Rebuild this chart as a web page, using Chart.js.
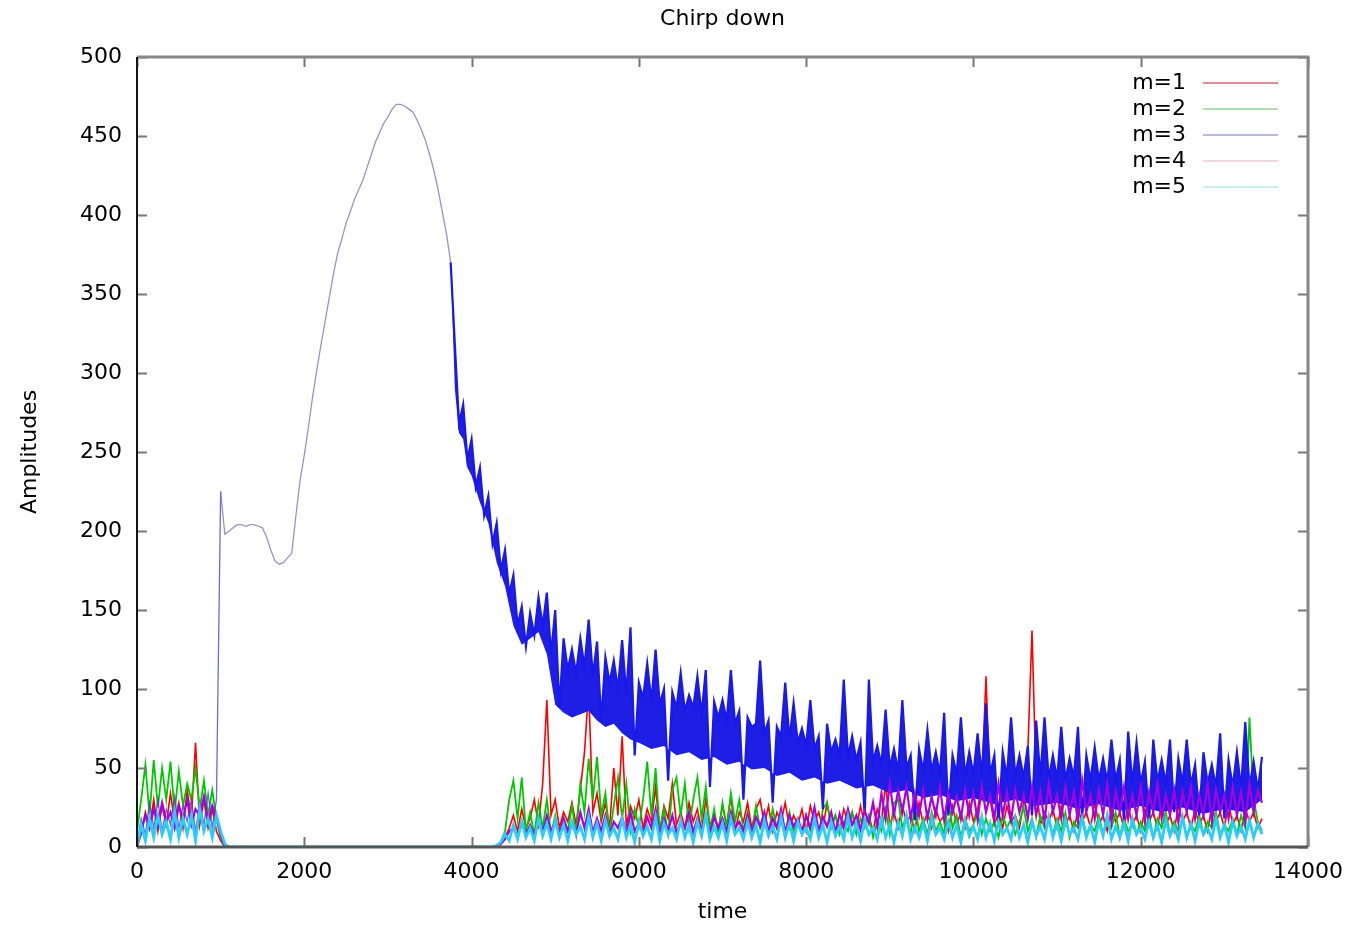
<!DOCTYPE html>
<html>
<head>
<meta charset="utf-8">
<title>Chirp down</title>
<script src="https://cdn.jsdelivr.net/npm/chart.js@4.4.1/dist/chart.umd.min.js"></script>
<style>
    html, body { margin: 0; padding: 0; background: #ffffff; }
    #chirpChart { display: block; }
</style>
</head>
<body>
<canvas id="chirpChart" width="1355" height="925"></canvas>
<script>
// sample times, one row = 500 time units
const time = [
    0, 50, 100, 150, 200, 250, 300, 350, 400, 450,
    500, 550, 600, 650, 700, 750, 800, 850, 900, 950,
    1000, 1050, 1100, 1150, 1200, 1250, 1300, 1350, 1400, 1450,
    1500, 1550, 1600, 1650, 1700, 1750, 1800, 1850, 1900, 1950,
    2000, 2050, 2100, 2150, 2200, 2250, 2300, 2350, 2400, 2450,
    2500, 2550, 2600, 2650, 2700, 2750, 2800, 2850, 2900, 2950,
    3000, 3050, 3100, 3150, 3200, 3250, 3300, 3350, 3400, 3450,
    3500, 3550, 3600, 3650, 3700, 3750, 3800, 3850, 3900, 3950,
    4000, 4050, 4100, 4150, 4200, 4250, 4300, 4350, 4400, 4450,
    4500, 4550, 4600, 4650, 4700, 4750, 4800, 4850, 4900, 4950,
    5000, 5050, 5100, 5150, 5200, 5250, 5300, 5350, 5400, 5450,
    5500, 5550, 5600, 5650, 5700, 5750, 5800, 5850, 5900, 5950,
    6000, 6050, 6100, 6150, 6200, 6250, 6300, 6350, 6400, 6450,
    6500, 6550, 6600, 6650, 6700, 6750, 6800, 6850, 6900, 6950,
    7000, 7050, 7100, 7150, 7200, 7250, 7300, 7350, 7400, 7450,
    7500, 7550, 7600, 7650, 7700, 7750, 7800, 7850, 7900, 7950,
    8000, 8050, 8100, 8150, 8200, 8250, 8300, 8350, 8400, 8450,
    8500, 8550, 8600, 8650, 8700, 8750, 8800, 8850, 8900, 8950,
    9000, 9050, 9100, 9150, 9200, 9250, 9300, 9350, 9400, 9450,
    9500, 9550, 9600, 9650, 9700, 9750, 9800, 9850, 9900, 9950,
    10000, 10050, 10100, 10150, 10200, 10250, 10300, 10350, 10400, 10450,
    10500, 10550, 10600, 10650, 10700, 10750, 10800, 10850, 10900, 10950,
    11000, 11050, 11100, 11150, 11200, 11250, 11300, 11350, 11400, 11450,
    11500, 11550, 11600, 11650, 11700, 11750, 11800, 11850, 11900, 11950,
    12000, 12050, 12100, 12150, 12200, 12250, 12300, 12350, 12400, 12450,
    12500, 12550, 12600, 12650, 12700, 12750, 12800, 12850, 12900, 12950,
    13000, 13050, 13100, 13150, 13200, 13250, 13300, 13350, 13400, 13450
];

const ampM1 = [
    0, 8, 22, 12, 30, 10, 26, 14, 34, 16,
    28, 12, 36, 18, 66, 14, 30, 12, 24, 10,
    4, 0, 0, 0, 0, 0, 0, 0, 0, 0,
    0, 0, 0, 0, 0, 0, 0, 0, 0, 0,
    0, 0, 0, 0, 0, 0, 0, 0, 0, 0,
    0, 0, 0, 0, 0, 0, 0, 0, 0, 0,
    0, 0, 0, 0, 0, 0, 0, 0, 0, 0,
    0, 0, 0, 0, 0, 0, 0, 0, 0, 0,
    0, 0, 0, 0, 0, 0, 0, 2, 6, 12,
    20, 10, 24, 12, 18, 30, 14, 40, 93, 20,
    30, 12, 22, 16, 28, 14, 36, 60, 100, 22,
    34, 16, 28, 12, 50, 20, 70, 14, 26, 18,
    30, 12, 24, 16, 38, 10, 26, 18, 40, 14,
    22, 12, 28, 16, 24, 10, 30, 14, 20, 12,
    26, 14, 32, 10, 22, 16, 28, 12, 24, 30,
    14, 26, 10, 22, 16, 28, 12, 20, 14, 24,
    10, 26, 16, 22, 12, 28, 14, 20, 10, 24,
    16, 22, 12, 26, 14, 20, 10, 24, 16, 40,
    14, 22, 12, 26, 16, 20, 10, 28, 14, 22,
    12, 24, 16, 20, 10, 26, 14, 22, 12, 28,
    16, 24, 40, 108, 30, 14, 22, 12, 26, 16,
    20, 12, 28, 60, 137, 40, 14, 22, 16, 24,
    12, 26, 14, 20, 10, 24, 16, 22, 12, 28,
    14, 20, 10, 24, 16, 22, 12, 26, 14, 20,
    10, 24, 16, 22, 12, 28, 14, 20, 10, 26,
    16, 22, 12, 24, 14, 20, 10, 26, 16, 22,
    12, 28, 14, 20, 10, 24, 16, 22, 12, 18
];

const ampM2 = [
    10, 30, 52, 20, 55, 25, 50, 30, 54, 22,
    48, 26, 40, 30, 50, 24, 42, 20, 36, 18,
    6, 0, 0, 0, 0, 0, 0, 0, 0, 0,
    0, 0, 0, 0, 0, 0, 0, 0, 0, 0,
    0, 0, 0, 0, 0, 0, 0, 0, 0, 0,
    0, 0, 0, 0, 0, 0, 0, 0, 0, 0,
    0, 0, 0, 0, 0, 0, 0, 0, 0, 0,
    0, 0, 0, 0, 0, 0, 0, 0, 0, 0,
    0, 0, 0, 0, 0, 0, 0, 3, 10, 30,
    42, 18, 44, 10, 22, 8, 28, 12, 30, 8,
    20, 6, 18, 10, 26, 8, 40, 22, 56, 30,
    57, 20, 34, 8, 26, 44, 18, 40, 10, 24,
    12, 30, 54, 20, 50, 10, 24, 8, 36, 44,
    20, 40, 12, 30, 44, 18, 38, 10, 24, 8,
    28, 12, 34, 16, 30, 10, 22, 8, 26, 12,
    20, 8, 24, 12, 18, 6, 22, 10, 16, 8,
    20, 10, 18, 6, 24, 28, 12, 20, 8, 16,
    10, 22, 8, 18, 12, 20, 6, 16, 10, 24,
    8, 28, 30, 12, 20, 8, 26, 10, 18, 8,
    22, 10, 16, 8, 30, 12, 20, 6, 18, 10,
    14, 22, 8, 18, 10, 16, 6, 20, 12, 18,
    8, 16, 25, 10, 18, 6, 20, 12, 16, 8,
    18, 10, 22, 6, 16, 12, 20, 8, 14, 10,
    20, 8, 16, 12, 22, 6, 18, 10, 14, 8,
    16, 10, 20, 6, 18, 12, 22, 8, 16, 10,
    18, 6, 14, 10, 20, 8, 16, 12, 22, 8,
    14, 10, 18, 8, 20, 12, 82, 30, 16, 10
];

const ampM3 = [
    2, 18, 8, 28, 12, 30, 10, 24, 14, 32,
    12, 26, 16, 30, 10, 28, 14, 34, 12, 30,
    225, 198, 200, 202, 204, 204, 203, 204, 204, 203,
    202, 196, 188, 181, 179, 180, 183, 186, 210, 232,
    248, 266, 285, 302, 318, 333, 348, 363, 376, 385,
    395, 402, 410, 416, 422, 430, 438, 446, 452, 458,
    462, 467, 470, 470, 469, 467, 465, 460, 454, 447,
    438, 428, 416, 402, 388, 370, 318, 268, 280, 245,
    258, 228, 240, 210, 222, 192, 205, 175, 188, 160,
    172, 140, 152, 127, 148, 134, 158, 140, 161, 122,
    150, 88, 132, 112, 125, 110, 132, 114, 144, 108,
    130, 80, 120, 104, 118, 100, 131, 96, 139, 58,
    104, 94, 116, 92, 125, 90, 100, 42, 98, 88,
    110, 86, 96, 88, 108, 84, 112, 38, 92, 82,
    93, 80, 112, 78, 86, 30, 82, 76, 78, 118,
    72, 80, 28, 76, 70, 104, 68, 91, 66, 75,
    64, 93, 62, 70, 24, 78, 60, 68, 58, 106,
    57, 70, 55, 66, 20, 106, 54, 64, 52, 87,
    50, 62, 48, 93, 50, 58, 17, 62, 48, 74,
    48, 60, 46, 85, 20, 58, 46, 82, 45, 60,
    46, 72, 45, 91, 46, 58, 15, 60, 44, 82,
    45, 58, 44, 64, 20, 80, 44, 82, 43, 58,
    43, 76, 42, 56, 44, 76, 18, 58, 42, 63,
    42, 56, 41, 68, 42, 55, 16, 73, 40, 66,
    40, 54, 16, 68, 41, 55, 40, 68, 22, 56,
    40, 68, 39, 52, 20, 60, 40, 52, 38, 72,
    18, 55, 38, 60, 37, 79, 38, 54, 36, 57
];

// ragged lower edge of the solid m=3 band during the decay
const m3FloorTime = [
    3750, 3800, 3850, 3900, 3950, 4000, 4100, 4200, 4300, 4400,
    4500, 4600, 4700, 4800, 4900, 4950, 5000, 5100, 5200, 5300,
    5400, 5500, 5600, 5700, 5800, 5900, 6000, 6150, 6300, 6450,
    6600, 6750, 6900, 7050, 7200, 7350, 7500, 7650, 7800, 7950,
    8100, 8250, 8400, 8600, 8800, 9000, 9200, 9400, 9600, 9800,
    10000, 10250, 10500, 10750, 11000, 11250, 11500, 11750, 12000, 12250,
    12500, 12750, 13000, 13250, 13450
];
const m3Floor = [
    370, 290, 262, 258, 240, 235, 218, 205, 180, 165,
    140, 128, 132, 136, 122, 106, 90, 85, 82, 84,
    86, 80, 76, 78, 72, 68, 66, 62, 64, 58,
    60, 55, 57, 52, 54, 49, 50, 45, 47, 42,
    44, 40, 42, 37, 39, 34, 36, 31, 33, 29,
    31, 27, 30, 26, 28, 24, 27, 23, 26, 22,
    25, 21, 24, 22, 30
];

const ampM4 = [
    0, 10, 20, 12, 24, 14, 28, 16, 22, 12,
    26, 18, 30, 14, 24, 20, 32, 16, 26, 18,
    8, 0, 0, 0, 0, 0, 0, 0, 0, 0,
    0, 0, 0, 0, 0, 0, 0, 0, 0, 0,
    0, 0, 0, 0, 0, 0, 0, 0, 0, 0,
    0, 0, 0, 0, 0, 0, 0, 0, 0, 0,
    0, 0, 0, 0, 0, 0, 0, 0, 0, 0,
    0, 0, 0, 0, 0, 0, 0, 0, 0, 0,
    0, 0, 0, 0, 0, 0, 0, 2, 5, 10,
    12, 6, 16, 8, 14, 7, 18, 9, 20, 10,
    16, 8, 18, 10, 15, 8, 22, 12, 24, 9,
    18, 10, 20, 8, 16, 12, 19, 9, 22, 10,
    15, 9, 19, 12, 24, 8, 18, 10, 20, 9,
    16, 12, 22, 9, 18, 10, 20, 8, 19, 12,
    18, 9, 22, 12, 16, 10, 20, 9, 19, 13,
    22, 10, 18, 12, 24, 9, 20, 13, 18, 10,
    20, 12, 25, 10, 19, 13, 22, 9, 21, 12,
    24, 14, 20, 11, 23, 15, 28, 13, 34, 18,
    40, 20, 36, 22, 38, 18, 34, 20, 36, 18,
    32, 20, 38, 17, 34, 22, 32, 18, 36, 20,
    34, 17, 38, 22, 33, 18, 40, 20, 35, 17,
    36, 22, 33, 18, 38, 20, 35, 16, 40, 22,
    33, 18, 38, 20, 35, 16, 42, 22, 33, 18,
    36, 20, 40, 16, 35, 22, 38, 18, 33, 20,
    38, 16, 35, 22, 40, 18, 33, 20, 36, 16,
    35, 22, 38, 18, 33, 20, 40, 16, 36, 22,
    33, 18, 38, 20, 35, 16, 40, 22, 36, 28
];

const ampM5 = [
    0, 14, 4, 18, 6, 20, 8, 16, 5, 22,
    6, 18, 8, 20, 4, 24, 10, 18, 6, 20,
    10, 2, 0, 0, 0, 0, 0, 0, 0, 0,
    0, 0, 0, 0, 0, 0, 0, 0, 0, 0,
    0, 0, 0, 0, 0, 0, 0, 0, 0, 0,
    0, 0, 0, 0, 0, 0, 0, 0, 0, 0,
    0, 0, 0, 0, 0, 0, 0, 0, 0, 0,
    0, 0, 0, 0, 0, 0, 0, 0, 0, 0,
    0, 0, 0, 0, 0, 0, 1, 3, 8, 4,
    14, 5, 16, 6, 12, 4, 18, 7, 15, 5,
    17, 6, 14, 4, 16, 8, 13, 5, 19, 6,
    15, 4, 17, 7, 12, 5, 18, 6, 14, 3,
    16, 7, 13, 5, 19, 4, 15, 8, 12, 5,
    17, 6, 14, 3, 16, 7, 20, 5, 13, 6,
    15, 4, 18, 8, 12, 5, 16, 6, 14, 3,
    17, 7, 13, 5, 19, 6, 15, 4, 16, 8,
    12, 5, 18, 6, 14, 3, 16, 7, 13, 5,
    19, 6, 15, 4, 17, 8, 12, 5, 18, 6,
    14, 3, 16, 7, 20, 5, 13, 6, 15, 4,
    18, 8, 12, 5, 16, 6, 14, 3, 17, 7,
    13, 5, 19, 6, 15, 4, 16, 8, 12, 5,
    18, 6, 14, 3, 16, 7, 13, 5, 19, 6,
    15, 4, 17, 8, 12, 5, 18, 6, 14, 3,
    16, 7, 20, 5, 13, 6, 15, 4, 18, 8,
    12, 5, 16, 6, 14, 3, 17, 7, 13, 5,
    19, 6, 15, 4, 16, 8, 12, 5, 18, 6,
    14, 3, 16, 7, 13, 5, 17, 6, 15, 8
];

const seriesNames = ['m=1', 'm=2', 'm=3', 'm=4', 'm=5'];
const seriesAmps = [ampM1, ampM2, ampM3, ampM4, ampM5];
const seriesColors = ['rgb(255,0,0)', 'rgb(0,200,0)', 'rgb(25,25,235)', 'rgb(170,0,225)', 'rgb(40,205,250)'];
const seriesWidths = [1.6, 1.8, 2.2, 2.2, 2.8];
const legendColors = ['rgb(225,140,150)', 'rgb(175,225,175)', 'rgb(185,185,220)', 'rgb(240,215,225)', 'rgb(205,235,242)'];

const fontFamily = '"DejaVu Sans", "Liberation Sans", sans-serif';
const thinBlue = 'rgba(125,120,185,0.8)';

function toPoints(xs, ys) {
    return xs.map((t, i) => ({ x: t, y: ys[i] }));
}

// gnuplot-like frame with inward tick marks on all four sides
const framePlugin = {
    id: 'frame',
    afterDatasetsDraw(chart) {
        const ctx = chart.ctx;
        const area = chart.chartArea;
        const xScale = chart.scales.x;
        const yScale = chart.scales.y;
        const tick = 10;
        ctx.save();
        ctx.strokeStyle = 'rgb(120,120,120)';
        ctx.lineWidth = 2;
        xScale.ticks.forEach(t => {
            const px = Math.round(xScale.getPixelForValue(t.value)) + 0.5;
            ctx.beginPath();
            ctx.moveTo(px, area.bottom); ctx.lineTo(px, area.bottom - tick);
            ctx.moveTo(px, area.top); ctx.lineTo(px, area.top + tick);
            ctx.stroke();
        });
        yScale.ticks.forEach(t => {
            const py = Math.round(yScale.getPixelForValue(t.value)) + 0.5;
            ctx.beginPath();
            ctx.moveTo(area.left, py); ctx.lineTo(area.left + tick, py);
            ctx.moveTo(area.right, py); ctx.lineTo(area.right - tick, py);
            ctx.stroke();
        });
        ctx.lineWidth = 3;
        ctx.strokeStyle = 'rgb(135,135,135)';
        ctx.beginPath();
        ctx.moveTo(area.left, area.top); ctx.lineTo(area.right, area.top); ctx.lineTo(area.right, area.bottom);
        ctx.stroke();
        ctx.strokeStyle = 'rgb(85,85,85)';
        ctx.beginPath();
        ctx.moveTo(area.left, area.bottom); ctx.lineTo(area.right, area.bottom);
        ctx.stroke();
        ctx.lineWidth = 2;
        ctx.strokeStyle = 'rgb(20,20,20)';
        ctx.beginPath();
        ctx.moveTo(area.left, area.top); ctx.lineTo(area.left, area.bottom);
        ctx.stroke();
        ctx.restore();
    }
};

// key in the top right corner, text first and line sample after it
const keyPlugin = {
    id: 'key',
    afterDraw(chart) {
        const ctx = chart.ctx;
        const area = chart.chartArea;
        ctx.save();
        ctx.font = '22px ' + fontFamily;
        ctx.textAlign = 'right';
        ctx.textBaseline = 'middle';
        seriesNames.forEach((name, i) => {
            const y = area.top + 26 + i * 26;
            ctx.fillStyle = '#000';
            ctx.fillText(name, area.right - 122, y);
            ctx.strokeStyle = legendColors[i];
            ctx.lineWidth = 2;
            ctx.beginPath();
            ctx.moveTo(area.right - 105, y);
            ctx.lineTo(area.right - 30, y);
            ctx.stroke();
        });
        ctx.restore();
    }
};

function initChart() {
    const datasets = seriesNames.map((name, i) => ({
        label: name,
        data: toPoints(time, seriesAmps[i]),
        borderColor: seriesColors[i],
        borderWidth: seriesWidths[i],
        pointRadius: 0,
        tension: 0,
        fill: false,
        order: 5 - i
    }));
    // thin, pale stretch of m=3 before the noisy decay
    datasets[2].segment = {
        borderColor: c => (c.p1.parsed.x <= 1000) ? 'rgba(70,70,200,0.8)' : (c.p1.parsed.x <= 3750 ? thinBlue : undefined),
        borderWidth: c => (c.p1.parsed.x <= 3750) ? 1.3 : undefined
    };
    // the fast oscillation of m=3 reads as a solid band: fill down to its floor
    datasets[2].fill = { target: 5 };
    datasets[2].backgroundColor = 'rgb(30,30,228)';
    datasets.push({
        label: 'm=3 floor',
        data: toPoints(m3FloorTime, m3Floor),
        borderWidth: 0,
        borderColor: 'rgba(0,0,0,0)',
        pointRadius: 0,
        tension: 0,
        fill: false,
        order: 10
    });

    new Chart(document.getElementById('chirpChart'), {
        type: 'line',
        data: { datasets: datasets },
        options: {
            responsive: false,
            animation: false,
            layout: { padding: { left: 0, right: 43, top: 0, bottom: 0 } },
            plugins: {
                legend: { display: false },
                tooltip: { enabled: false },
                filler: { propagate: false },
                title: {
                    display: true,
                    fullSize: false,
                    text: 'Chirp down',
                    color: '#000',
                    font: { family: fontFamily, size: 22, weight: 'normal' },
                    padding: { top: 6, bottom: 24.6 }
                }
            },
            scales: {
                x: {
                    type: 'linear',
                    min: 0,
                    max: 14000,
                    grid: { display: false, drawTicks: false },
                    border: { display: false },
                    ticks: {
                        stepSize: 2000,
                        color: '#000',
                        padding: 12,
                        maxRotation: 0,
                        autoSkip: false,
                        font: { family: fontFamily, size: 22 },
                        callback: v => String(v)
                    },
                    title: {
                        display: true,
                        text: 'time',
                        color: '#000',
                        font: { family: fontFamily, size: 22 },
                        padding: { top: 0, bottom: 0 }
                    },
                    afterFit: s => { s.height = 78; }
                },
                y: {
                    min: 0,
                    max: 500,
                    grid: { display: false, drawTicks: false },
                    border: { display: false },
                    ticks: {
                        stepSize: 50,
                        color: '#000',
                        padding: 15,
                        font: { family: fontFamily, size: 22 },
                        callback: v => String(v)
                    },
                    title: {
                        display: true,
                        text: 'Amplitudes',
                        color: '#000',
                        font: { family: fontFamily, size: 22 },
                        padding: { top: 17, bottom: 0 }
                    },
                    afterFit: s => { s.width = 137; }
                }
            }
        },
        plugins: [framePlugin, keyPlugin]
    });
}

window.addEventListener('load', initChart);
</script>
</body>
</html>
